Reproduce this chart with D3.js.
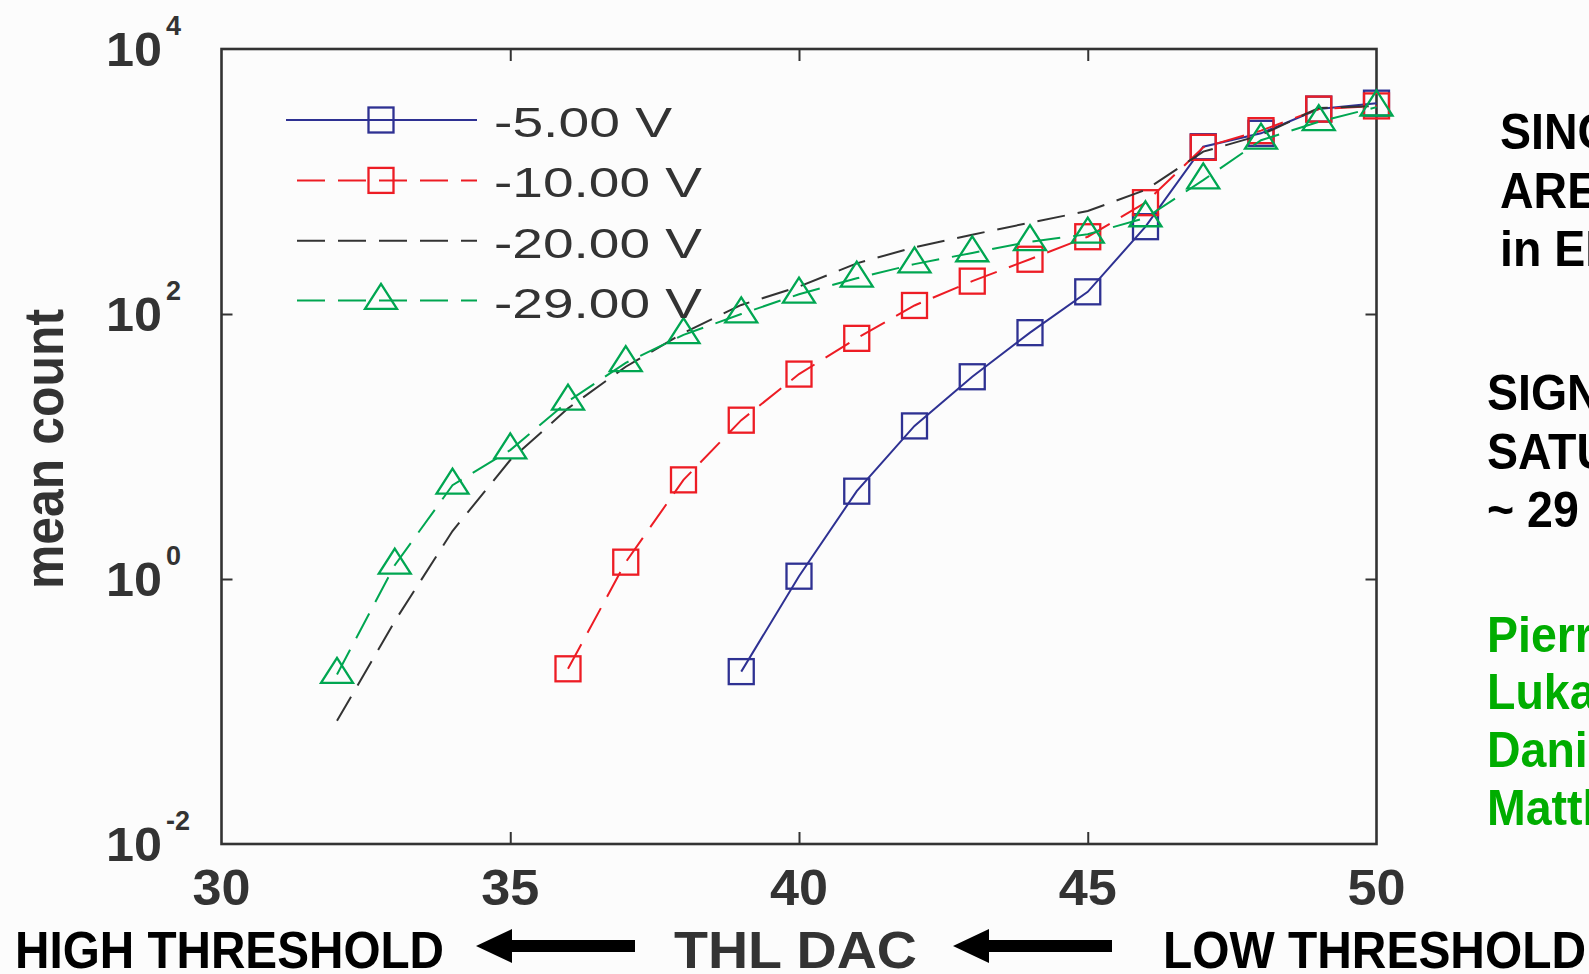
<!DOCTYPE html>
<html>
<head>
<meta charset="utf-8">
<script src="https://cdn.jsdelivr.net/npm/d3@7"></script>
<style>
  html, body { margin: 0; padding: 0; background: #fcfcfc; overflow: hidden; }
  svg { display: block; }
</style>
</head>
<body>
<script>
// Mean count per pixel versus THL DAC, one scan per detector bias voltage
const biasLabels = ["-5.00 V", "-10.00 V", "-20.00 V", "-29.00 V"];

const thl5V  = [39, 40, 41, 42, 43, 44, 45, 46, 47, 48, 49, 50];
const count5V  = [0.2, 1.05, 4.6, 14.3, 33.6, 72.3, 147, 456, 1830, 2310, 3520, 3900];

const thl10V = [36, 37, 38, 39, 40, 41, 42, 43, 44, 45, 46, 47, 48, 49, 50];
const count10V = [0.21, 1.34, 5.6, 15.8, 35.2, 65.5, 116, 177, 259, 383, 692, 1810, 2420, 3520, 3720];

const thl20V = [32, 33, 34, 35, 36, 37, 38, 39, 40, 41, 42, 43, 44, 45, 46, 47, 48, 49, 50];
const count20V = [0.085, 0.48, 2.3, 7.9, 19.4, 40, 72, 117, 161, 241, 319, 397, 489, 599, 863, 1680, 2240, 3590, 3715];

const thl29V = [32, 33, 34, 35, 36, 37, 38, 39, 40, 41, 42, 43, 44, 45, 46, 47, 48, 49, 50];
const count29V = [0.19, 1.27, 5.1, 9.4, 21.9, 42.8, 69.6, 100, 141, 186, 238, 289, 351, 400, 531, 1024, 2050, 2820, 3640];

// Axis ticks
const xTickValues = [30, 35, 40, 45, 50];
const yTickExponents = [4, 2, 0, -2];

// Side notes and axis captions
const notesBlockA = ["SINGLE PIXEL", "AREA", "in ELECTRONS"];
const notesBlockB = ["SIGNAL", "SATURATES", "~ 29 V"];
const notesNames = ["Pierre", "Lukas", "Daniel", "Matthias"];
const captionLeft = "HIGH THRESHOLD";
const captionMid = "THL DAC";
const captionRight = "LOW THRESHOLD";
const yCaption = "mean count";

// ---- drawing ----
const W = 1589, H = 974;
const ink = "#333333";
const svg = d3.select("body").append("svg").attr("width", W).attr("height", H);
svg.append("rect").attr("width", W).attr("height", H).attr("fill", "#fcfcfc");

const plot = { left: 221.5, right: 1376.5, top: 49, bottom: 844 };
const x = d3.scaleLinear().domain([30, 50]).range([plot.left, plot.right]);
const y = d3.scaleLog().domain([1e-2, 1e4]).range([plot.bottom, plot.top]);

const styles = [
  { color: "#2e3192", dash: null,    marker: "square" },
  { color: "#ed1c24", dash: "28,13", marker: "square" },
  { color: "#333333", dash: "28,13", marker: null },
  { color: "#00a651", dash: "28,13", marker: "triangle" }
];
const seriesData = [
  d3.zip(thl5V, count5V),
  d3.zip(thl10V, count10V),
  d3.zip(thl20V, count20V),
  d3.zip(thl29V, count29V)
];

const SQ = 25;                // square marker side
const TRI_H = 25, TRI_W = 32; // triangle marker size (centred on centroid)
const triPath = `M0,${-2 * TRI_H / 3} L${TRI_W / 2},${TRI_H / 3} L${-TRI_W / 2},${TRI_H / 3} Z`;

function drawMarker(g, kind, cx, cy, color) {
  if (kind === "square") {
    g.append("rect")
      .attr("x", cx - SQ / 2).attr("y", cy - SQ / 2)
      .attr("width", SQ).attr("height", SQ)
      .attr("fill", "none").attr("stroke", color).attr("stroke-width", 2.3);
  } else if (kind === "triangle") {
    g.append("path")
      .attr("d", triPath)
      .attr("transform", `translate(${cx},${cy})`)
      .attr("fill", "none").attr("stroke", color).attr("stroke-width", 2.3)
      .attr("stroke-linejoin", "miter");
  }
}

// Frame
svg.append("rect")
  .attr("x", plot.left).attr("y", plot.top)
  .attr("width", plot.right - plot.left).attr("height", plot.bottom - plot.top)
  .attr("fill", "none").attr("stroke", ink).attr("stroke-width", 2.6);

// Inward ticks on all four sides
function styleTicks(g) {
  g.select(".domain").remove();
  g.selectAll(".tick line").attr("stroke", ink).attr("stroke-width", 2);
  g.selectAll(".tick text").remove();
}
svg.append("g").attr("transform", `translate(0,${plot.bottom})`)
  .call(d3.axisBottom(x).tickValues([35, 40, 45]).tickSize(-12)).call(styleTicks);
svg.append("g").attr("transform", `translate(0,${plot.top})`)
  .call(d3.axisTop(x).tickValues([35, 40, 45]).tickSize(-12)).call(styleTicks);
svg.append("g").attr("transform", `translate(${plot.left},0)`)
  .call(d3.axisLeft(y).tickValues([1, 100]).tickSize(-11)).call(styleTicks);
svg.append("g").attr("transform", `translate(${plot.right},0)`)
  .call(d3.axisRight(y).tickValues([1, 100]).tickSize(-11)).call(styleTicks);

// X tick labels
const tickFont = "'Liberation Sans Narrow', 'Liberation Sans', Arial, sans-serif";
svg.append("g").selectAll("text").data(xTickValues).join("text")
  .attr("x", d => x(d)).attr("y", 905)
  .attr("text-anchor", "middle")
  .attr("font-family", tickFont).attr("font-weight", "bold").attr("font-size", 50)
  .attr("fill", ink)
  .attr("textLength", 58).attr("lengthAdjust", "spacingAndGlyphs")
  .text(d => d);

// Y tick labels: 10 with superscript exponent
const yLab = svg.append("g");
yTickExponents.forEach(e => {
  const ty = y(Math.pow(10, e));
  yLab.append("text")
    .attr("x", 162).attr("y", ty + 17)
    .attr("text-anchor", "end")
    .attr("font-family", tickFont).attr("font-weight", "bold").attr("font-size", 49)
    .attr("fill", ink)
    .attr("textLength", 56).attr("lengthAdjust", "spacingAndGlyphs")
    .text("10");
  yLab.append("text")
    .attr("x", 166).attr("y", ty - 14)
    .attr("font-family", "'Liberation Sans', Arial, sans-serif").attr("font-weight", "bold").attr("font-size", 27)
    .attr("fill", ink)
    .text(e < 0 ? "-" + Math.abs(e) : String(e));
});

// Y axis caption
svg.append("text")
  .attr("transform", "translate(63,449) rotate(-90)")
  .attr("text-anchor", "middle")
  .attr("font-family", "'Liberation Sans', Arial, sans-serif").attr("font-weight", "bold").attr("font-size", 56)
  .attr("fill", ink)
  .attr("textLength", 280).attr("lengthAdjust", "spacingAndGlyphs")
  .text(yCaption);

// Series lines and markers (later series drawn on top)
const line = d3.line().x(d => x(d[0])).y(d => y(d[1]));
seriesData.forEach((pts, i) => {
  const st = styles[i];
  const g = svg.append("g");
  g.append("path")
    .attr("d", line(pts))
    .attr("fill", "none").attr("stroke", st.color).attr("stroke-width", 2)
    .attr("stroke-dasharray", st.dash);
  if (st.marker) pts.forEach(p => drawMarker(g, st.marker, x(p[0]), y(p[1]), st.color));
});

// Legend
const legendRowY = [120, 180.4, 240.8, 300.6];
const lg = svg.append("g");
biasLabels.forEach((lab, i) => {
  const st = styles[i];
  const ry = legendRowY[i];
  lg.append("line")
    .attr("x1", st.dash ? 297 : 286).attr("x2", 477).attr("y1", ry).attr("y2", ry)
    .attr("stroke", st.color).attr("stroke-width", 2)
    .attr("stroke-dasharray", st.dash);
  if (st.marker) drawMarker(lg, st.marker, 381, ry, st.color);
  lg.append("text")
    .attr("x", 494).attr("y", ry + 17)
    .attr("font-family", "'Liberation Sans', Arial, sans-serif").attr("font-size", 43)
    .attr("fill", ink)
    .attr("textLength", i === 0 ? 178 : 208).attr("lengthAdjust", "spacingAndGlyphs")
    .text(lab);
});

// Bottom captions with arrows pointing towards higher threshold
const capFont = "'Liberation Sans Narrow', 'Liberation Sans', Arial, sans-serif";
function caption(txt, x0, width, color) {
  svg.append("text")
    .attr("x", x0).attr("y", 968)
    .attr("font-family", capFont).attr("font-weight", "bold").attr("font-size", 52)
    .attr("fill", color)
    .attr("textLength", width).attr("lengthAdjust", "spacingAndGlyphs")
    .text(txt);
}
caption(captionLeft, 15, 429, "#000");
caption(captionMid, 674, 243, ink);
caption(captionRight, 1163, 423, "#000");

function arrow(tipX, endX) {
  const cy = 946, headLen = 36, headHalf = 17, shaftHalf = 6;
  const hb = tipX + headLen;
  svg.append("path")
    .attr("d", `M${tipX},${cy} L${hb},${cy - headHalf} L${hb},${cy - shaftHalf} L${endX},${cy - shaftHalf} L${endX},${cy + shaftHalf} L${hb},${cy + shaftHalf} L${hb},${cy + headHalf} Z`)
    .attr("fill", "#000");
}
arrow(476, 635);
arrow(953, 1112);

// Side notes (run past the right edge of the page)
const noteFont = "'Liberation Sans', Arial, sans-serif";
function note(lines, x0, baselines, color) {
  lines.forEach((t, i) => {
    svg.append("text")
      .attr("transform", `translate(${x0},${baselines[i]}) scale(0.93,1)`)
      .attr("font-family", noteFont).attr("font-weight", "bold").attr("font-size", 50)
      .attr("fill", color)
      .text(t);
  });
}
note(notesBlockA, 1500, [149, 207.7, 265.5], "#000");
note(notesBlockB, 1487, [410.4, 469.2, 527], "#000");
note(notesNames, 1487, [651.6, 709.4, 767.1, 825], "#00ad00");
</script>
</body>
</html>
